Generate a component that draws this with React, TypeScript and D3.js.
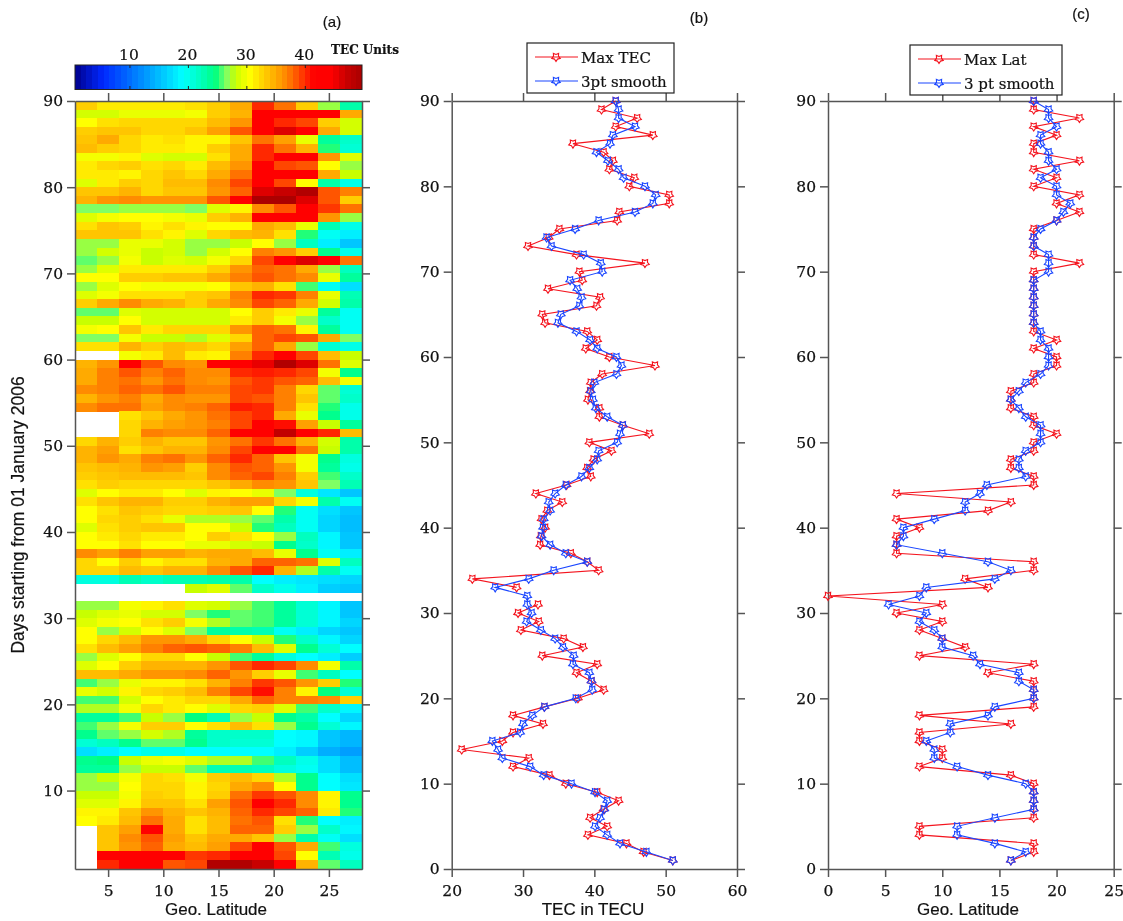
import React, { useEffect, useRef } from 'react';
import * as d3 from 'd3';

// Panel (a) grid: one row per day, day 90 first, last row is day 2
const latitudes = [2, 4, 6, 8, 10, 12, 14, 16, 18, 20, 22, 24, 26];
const n = null;
const tecGrid: (number | null)[][] = [
  [33, 31.5, 31.5, 31.5, 31.5, 32, 33, 35, 40, 37.5, 33, 27, 23],
  [28.5, 28.5, 29.5, 29.5, 29.5, 30, 33, 34.5, 42, 42, 42, 42, 35],
  [30.5, 32, 32.5, 32.5, 32.5, 32.5, 34, 36, 42, 40, 39, 33, 28.5],
  [33, 33.5, 33.5, 32.5, 32.5, 33.5, 35.5, 38.5, 43, 46, 43, 35, 28.5],
  [33.5, 35, 32.5, 31.5, 32, 31, 31, 33.5, 37.5, 35.5, 29.5, 23.5, 21.5],
  [34, 33, 32.5, 31.5, 31.5, 31, 33, 35, 40, 37.5, 34.5, 25, 21],
  [30, 30, 31, 29, 28.5, 28.5, 32, 35, 40, 42, 42, 36, 29],
  [31.5, 32.5, 33, 32, 32.5, 31.5, 34, 36, 41.5, 39, 38.5, 30.5, 27],
  [31.5, 31.5, 31, 32.5, 33.5, 32.5, 35, 37.5, 42, 42, 42, 35, 28],
  [29, 31.5, 33, 32.5, 34, 34, 36.5, 39, 42, 39, 30.5, 23, 20],
  [33.5, 33.5, 34.5, 32.5, 33.5, 33.5, 36, 38, 46, 47, 49, 38.5, 37],
  [34.5, 36, 36.5, 36, 36, 36, 38.5, 42, 49.5, 49.5, 46, 38.5, 33],
  [26.5, 26.5, 27, 27, 27, 26.5, 29, 31, 36.5, 38.5, 42, 39.5, 37.5],
  [29, 30, 30.5, 30.5, 30, 29.5, 33, 34.5, 42, 42, 42, 36, 27],
  [32, 33.5, 33, 31, 32, 31, 30.5, 30.5, 35, 34, 29.5, 22.5, 20],
  [33.5, 33.5, 33.5, 32, 31, 29, 32.5, 34, 34.5, 32, 25, 19.5, 18],
  [27, 27, 29.5, 29.5, 28.5, 27, 27, 28, 30.5, 27, 22, 18, 15.5],
  [27, 28.5, 29.5, 28, 28.5, 27, 28.5, 30.5, 37, 36, 33, 24, 20],
  [26, 27, 30, 28, 29, 28.5, 30, 32.5, 39, 42, 46, 42, 37.5],
  [27, 29, 31.5, 31.5, 31.5, 31.5, 33, 36, 38, 37.5, 35, 27, 22],
  [30.5, 30.5, 33, 33, 33.5, 33.5, 35, 37, 38.5, 37.5, 36.5, 29.5, 23.5],
  [27, 29, 30.5, 30, 30, 30, 30.5, 33.5, 34.5, 32, 25.5, 19.5, 17],
  [29, 30, 32, 32, 32, 33, 33.5, 37, 40, 39.5, 37, 29.5, 22.5],
  [33, 35, 36.5, 35, 34.5, 33, 35, 36.5, 39, 38, 35, 28.5, 23],
  [26, 26, 29, 28.5, 28.5, 28.5, 28.5, 30.5, 33, 31.5, 29.5, 23.5, 19.5],
  [28, 28, 30.5, 28.5, 28.5, 28.5, 28.5, 31.5, 33, 30, 27, 21.5, 19.5],
  [30, 30.5, 33.5, 31.5, 32.5, 32.5, 32.5, 36, 38, 37.5, 31, 23.5, 19.5],
  [26.5, 26.5, 30, 28, 28, 27.5, 29, 32.5, 38, 39, 38.5, 35, 26.5],
  [32, 32, 34.5, 33, 34, 33.5, 32.5, 35.5, 38, 35, 27, 21, 20],
  [n, n, 30, 31.5, 34, 31.5, 31, 37, 40, 42, 39, 34, 28],
  [34.5, 36, 43, 38.5, 36.5, 36, 42, 43, 45.5, 49, 46, 37.5, 29],
  [35, 37, 38.5, 37, 38, 36.5, 36.5, 40, 40.5, 40, 39, 30, 24],
  [35, 37, 37.5, 36, 37.5, 36.5, 36, 38.5, 39.5, 38.5, 38, 34, 30],
  [36.5, 37, 38, 37.5, 38.5, 37, 37, 39, 39.5, 37, 32.5, 26, 21],
  [34.5, 36, 37, 35, 36.5, 36, 36, 39, 38.5, 37, 33.5, 26, 21.5],
  [36.5, 37.5, 37.5, 35.5, 36.5, 37, 38, 40.5, 40, 37, 32, 25, 20],
  [n, n, 32, 33.5, 35, 36, 37.5, 39, 40, 35, 29.5, 24, 20],
  [n, n, 32.5, 34.5, 35.5, 36, 37, 39, 43, 41, 35.5, 28, 23.5],
  [n, n, 32.5, 37, 36.5, 36.5, 38, 42, 44, 47.5, 43, 40, 34],
  [32.5, 34.5, 33, 34.5, 33.5, 33.5, 36, 37.5, 39.5, 37.5, 34.5, 28.5, 23],
  [34.5, 35.5, 32, 33.5, 34.5, 34.5, 36.5, 39, 42, 42, 37.5, 28, 23],
  [34.5, 36, 35, 37, 37.5, 36, 38, 40, 38, 33.5, 30, 24, 20.5],
  [33.5, 34, 34.5, 36, 35.5, 33, 36.5, 38.5, 38, 36, 30, 23.5, 20],
  [33, 33.5, 34, 34, 34, 33.5, 36.5, 38, 39, 37, 33, 25.5, 21.5],
  [32, 33, 32.5, 32.5, 32.5, 32.5, 33.5, 35, 36.5, 36, 33.5, 26.5, 22.5],
  [29, 30.5, 31.5, 31.5, 30.5, 29, 31, 30.5, 29.5, 26.5, 20.5, 17.5, 15.5],
  [32, 33.5, 34.5, 34.5, 33, 33, 34.5, 35.5, 35.5, 32.5, 30, 23, 19.5],
  [30.5, 32, 33.5, 33, 32.5, 32.5, 33, 33.5, 30.5, 25, 19.5, 17, 15.5],
  [30.5, 32.5, 33, 32, 29.5, 27.5, 27.5, 27, 26, 23, 19.5, 16.5, 15],
  [29, 32, 33, 33.5, 33.5, 30.5, 30.5, 28, 25, 22, 19.5, 16.5, 15],
  [30.5, 31.5, 32.5, 31.5, 31.5, 30.5, 33, 32, 30.5, 27, 22, 18.5, 15.5],
  [30.5, 30.5, 32, 30.5, 30.5, 29.5, 29.5, 28.5, 28, 24, 21.5, 18.5, 15.5],
  [36.5, 35.5, 37, 35.5, 35.5, 34.5, 35, 35, 34, 29.5, 24, 19.5, 18],
  [32.5, 30.5, 33, 31, 32, 32, 34.5, 35, 38, 38, 37.5, 29, 22],
  [32.5, 32.5, 34, 33.5, 34.5, 34.5, 36.5, 38.5, 40, 34.5, 27.5, 23, 19.5],
  [20.5, 20.5, 22.5, 21.5, 22.5, 22.5, 23, 23, 19, 18, 17.5, 17, 16.5],
  [n, n, n, n, n, 28, 29, 26, 21.5, 20, 18, 16, 15.5],
  [n, n, n, n, n, n, n, n, n, n, n, n, n],
  [27, 27, 30, 31, 32, 29, 28.5, 27, 25.5, 23.5, 21, 18.5, 15.5],
  [28, 29, 29.5, 28.5, 28.5, 26.5, 25, 26, 25.5, 23.5, 21, 18.5, 15.5],
  [29, 30, 30.5, 32, 33, 30, 27.5, 26, 25.5, 23.5, 21, 18.5, 16.5],
  [30.5, 27, 28.5, 30.5, 29, 26.5, 23.5, 23, 22.5, 19.5, 18, 16.5, 15.5],
  [30.5, 32.5, 34, 36, 36, 35, 32.5, 30.5, 28, 25, 21.5, 18.5, 16.5],
  [32, 34, 35.5, 37, 38, 38.5, 38, 37, 34, 29, 24, 21, 19],
  [27, 29, 30.5, 32.5, 32.5, 30.5, 28, 25.5, 23.5, 20.5, 19, 18, 16],
  [29, 30.5, 33, 34.5, 34.5, 34.5, 36, 38.5, 40, 39, 36.5, 30, 23],
  [34, 34, 35, 36, 36, 36.5, 38, 36, 33, 29.5, 25.5, 22, 19],
  [25.5, 27, 29.5, 31, 31, 32, 34.5, 37, 39.5, 38.5, 36, 33, 25],
  [29.5, 28.5, 31, 32.5, 33, 34, 37, 39, 41, 37, 31, 24.5, 21],
  [25.5, 25.5, 28.5, 30.5, 31.5, 32.5, 32.5, 35, 38, 37, 37, 36.5, 33],
  [27.5, 27.5, 30, 32.5, 31.5, 30.5, 29, 32.5, 33, 29, 25.5, 21.5, 18.5],
  [23.5, 23.5, 25.5, 28, 27, 24.5, 22.5, 27, 28, 24, 23, 19, 16.5],
  [25.5, 27, 30, 33, 33, 30.5, 32, 34, 32, 27, 24, 21, 18.5],
  [24, 26, 27, 28.5, 27.5, 23.5, 21.5, 21.5, 21.5, 19, 18.5, 15.5, 14.5],
  [21, 22, 24, 26, 26, 24, 21.5, 21, 21, 19, 18.5, 15.5, 14.5],
  [17, 18, 19, 20, 20, 19, 19, 19, 19, 18, 16, 14, 13],
  [24, 24.5, 28, 29.5, 30, 29, 27.5, 27.5, 25.5, 22, 20, 17, 15],
  [23.5, 23.5, 27, 28, 28, 26, 22.5, 22.5, 22, 20.5, 19.5, 17, 15],
  [27, 28, 30, 32.5, 32, 30, 33, 34, 32.5, 27.5, 24, 19, 17],
  [27, 27, 30.5, 32.5, 32.5, 31, 32.5, 35, 36.5, 30.5, 24, 19, 17.5],
  [28, 28, 30, 33, 32.5, 31, 33, 37.5, 39.5, 38.5, 36.5, 31, 24],
  [29, 29, 31, 33.5, 33.5, 32, 35.5, 38.5, 43, 40, 36.5, 31, 24],
  [31, 31, 33.5, 36, 34.5, 33.5, 34.5, 38, 40, 39, 38, 31.5, 25],
  [30.5, 31.5, 34, 37.5, 35, 32, 34, 37.5, 38.5, 32, 25, 19, 18],
  [n, 33.5, 35.5, 42.5, 35, 32, 34, 38, 38, 33, 27, 21.5, 18.5],
  [n, 33.5, 36.5, 38.5, 35.5, 33.5, 35, 35, 33.5, 27, 23, 19.5, 17],
  [n, 33.5, 36, 38, 35, 34, 35.5, 39, 43, 38.5, 35, 25.5, 20.5],
  [n, 42, 42, 42, 42, 39.5, 40, 42, 44, 39, 30.5, 22.5, 20],
  [n, 40, 43, 43, 38.5, 39, 49, 49, 47, 43, 34.5, 26, 22],
];

// Colour map stops
const colorStops = [0.6, 5.4, 10, 15, 19, 23, 24.5, 26.5, 28, 30.5, 32.5, 35, 37, 38.5, 40, 41.5, 44.5, 47, 49.7];
const colorValues = [
  '#00008c', '#0028ff', '#006eff', '#00beff', '#00ffff', '#00ffaa', '#00ff80', '#80ff64', '#c8ff00', '#ffff00',
  '#ffd700', '#ffaa00', '#ff8000', '#ff5500', '#ff2800', '#ff0000', '#ff0000', '#c80000', '#aa0000',
];
const colorTicks = [10, 20, 30, 40];

// Panels (b) and (c): day 90 first, day 1 last
const days = d3.range(90, 0, -1);
const maxTec = [
  43, 41, 46, 43, 48.2, 37, 41.3, 42.6, 42.1, 45.6,
  44.9, 50.5, 50.5, 43.5, 43.2, 35.1, 33.6, 30.7, 37.5, 47.1,
  37.9, 38.3, 33.5, 40.8, 40.3, 32.7, 33.1, 39, 40.4, 38.8,
  42.1, 48.5, 41.1, 39.5, 39.4, 39.1, 40.7, 40.7, 44, 47.7,
  39.3, 42.4, 39.9, 39, 39.5, 36.1, 31.8, 35.5, 33.4, 32.6,
  33.1, 32.5, 32.4, 36.7, 39, 40.6, 22.9, 29.1, n, 32.1,
  29.3, 32.2, 29.7, 35.7, 38.4, 32.7, 40.4, 37.5, 39.6, 41.3,
  37.7, 33, 28.6, 32.8, 28.6, 27.1, 21.4, 30.8, 28.6, 33.7,
  36, 40.4, 43.4, 41.3, 39.4, 41.8, 39.1, 44.5, 46.9, 51,
];
const smoothTec = [
  43, 43.4, 43.4, 45.7, 42.6, 42.2, 40.3, 41.9, 43.4, 44.1,
  47.1, 48.6, 48.2, 45.7, 40.6, 37.3, 33.3, 34, 38.5, 40.9,
  41.1, 36.6, 37.6, 38.2, 37.9, 35.3, 34.9, 37.5, 39.4, 40.4,
  43.1, 43.8, 43.1, 40, 39.5, 39.8, 40.2, 41.8, 44, 43.6,
  43.2, 40.6, 40.4, 39.3, 38.2, 36, 34.5, 33.6, 33.8, 32.9,
  32.8, 32.6, 33.8, 36, 39, 34.3, 30.8, 26.1, 30.6, 30.6,
  31.2, 30.5, 32.5, 34.5, 35.6, 37.1, 37, 39.3, 39.6, 39.7,
  37.4, 33, 31.3, 30, 29.6, 25.7, 26.5, 27.1, 31, 32.9,
  36.8, 40.1, 41.8, 41.4, 40.8, 40.1, 41.8, 43.6, 47.3, 51,
];
const maxLat = [
  18, 18, 22, 18, 20, 18, 18, 22, 18, 20,
  18, 22, 20, 22, 20, 18, 18, 18, 18, 22,
  18, 18, 18, 18, 18, 18, 18, 18, 20, 18,
  20, 20, 18, 18, 16, 16, 16, 18, 18, 20,
  18, 18, 16, 16, 18, 18, 6, 16, 14, 6,
  8, 6, 6, 6, 18, 18, 12, 14, 0, 10,
  6, 10, 8, 10, 12, 8, 18, 14, 18, 18,
  18, 18, 8, 16, 8, 8, 10, 10, 8, 16,
  18, 18, 18, 18, 18, 8, 8, 18, 18, 16,
];
const smoothLat = [
  18, 19.3, 19.3, 20, 18.6, 18.6, 19.3, 19.3, 20, 18.6,
  20, 20, 21.2, 20.6, 20, 18.6, 18, 18, 19.3, 19.3,
  19.3, 18, 18, 18, 18, 18, 18, 18.6, 18.6, 19.3,
  19.3, 19.3, 18.6, 17.3, 16.7, 16, 16.7, 17.3, 18.6, 18.6,
  18.6, 17.3, 16.7, 16.7, 17.3, 13.9, 13.3, 12, 12, 9.3,
  6.6, 6.6, 6, 10, 14, 16, 14.6, 8.6, 8, 5.3,
  8.6, 8, 9.3, 10, 10, 12.7, 13.3, 16.7, 16.7, 18,
  18, 14.6, 14, 10.7, 10.7, 8.6, 9.3, 9.3, 11.3, 14,
  17.3, 18, 18, 18, 14.6, 11.3, 11.3, 14.6, 17.3, 16,
];

const xTicksA = [5, 10, 15, 20, 25];
const xTicksB = [20, 30, 40, 50, 60];
const xTicksC = [0, 5, 10, 15, 20, 25];
const yTicksA = d3.range(10, 100, 10);
const yTicks = d3.range(0, 100, 10);

const RED = '#f4141e';
const BLUE = '#1a46ff';
const AXIS = '#555';
const SERIF = '"DejaVu Serif", serif';
const SANS = '"Liberation Sans", sans-serif';

// Fatter pentagram than d3.symbolStar, closer to the plotted marker
const starMark = {
  draw(context: any, size: number) {
    const r = Math.sqrt(size);
    for (let i = 0; i < 10; i++) {
      const a = (i * Math.PI) / 5;
      const rr = i % 2 ? r * 0.58 : r;
      const px = rr * Math.sin(a);
      const py = -rr * Math.cos(a);
      if (i) context.lineTo(px, py);
      else context.moveTo(px, py);
    }
    context.closePath();
  },
};
const star = d3.symbol(starMark, 20)();

function drawAxes(svg: any, x: any, y: any, xTicks: number[], yTickVals: number[]) {
  const [x0, x1] = x.range();
  const [y0, y1] = y.range();
  const dress = (g: any) => {
    g.selectAll('path,line').attr('stroke', AXIS).attr('stroke-width', 1.5);
    g.selectAll('text').style('font-family', SERIF).style('font-size', '15.5px').attr('fill', '#111')
      .attr('stroke', '#111').attr('stroke-width', 0.25);
  };
  svg.append('g').attr('transform', `translate(0,${y0})`)
    .call(d3.axisBottom(x).tickValues(xTicks).tickSize(8).tickSizeOuter(0).tickPadding(8)).call(dress);
  svg.append('g').attr('transform', `translate(0,${y1})`)
    .call(d3.axisTop(x).tickValues(xTicks).tickSize(8).tickSizeOuter(0).tickFormat(() => '')).call(dress);
  svg.append('g').attr('transform', `translate(${x0},0)`)
    .call(d3.axisLeft(y).tickValues(yTickVals).tickSize(8).tickSizeOuter(0).tickPadding(4)).call(dress);
  svg.append('g').attr('transform', `translate(${x1},0)`)
    .call(d3.axisRight(y).tickValues(yTickVals).tickSize(8).tickSizeOuter(0).tickFormat(() => '')).call(dress);
}

function drawSeries(svg: any, x: any, y: any, values: (number | null)[], color: string) {
  const line = d3.line<number | null>()
    .defined(d => d !== null)
    .x(d => x(d))
    .y((_, i) => y(days[i]));
  svg.append('path').attr('d', line(values)).attr('fill', 'none')
    .attr('stroke', color).attr('stroke-width', 1.1);
  svg.append('g').selectAll('path')
    .data(values.map((v, i) => ({ v, day: days[i] })).filter(d => d.v !== null))
    .enter().append('path')
    .attr('d', star)
    .attr('transform', (d: any) => `translate(${x(d.v)},${y(d.day)}) rotate(180)`)
    .attr('fill', 'none').attr('stroke', color).attr('stroke-width', 1.1);
}

function drawLegend(svg: any, box: number[], labels: string[]) {
  const [left, top, right, bottom] = box;
  svg.append('rect').attr('x', left).attr('y', top).attr('width', right - left).attr('height', bottom - top)
    .attr('fill', '#fff').attr('stroke', '#222').attr('stroke-width', 1.2);
  labels.forEach((label, i) => {
    const color = i === 0 ? RED : BLUE;
    const yy = top + 14 + i * 24;
    svg.append('line').attr('x1', left + 8).attr('x2', left + 51).attr('y1', yy).attr('y2', yy)
      .attr('stroke', color).attr('stroke-width', 1.1);
    svg.append('path').attr('d', star).attr('transform', `translate(${left + 29},${yy}) rotate(180)`)
      .attr('fill', 'none').attr('stroke', color).attr('stroke-width', 1.1);
    svg.append('text').attr('x', left + 54).attr('y', yy + 6)
      .style('font-family', SERIF).style('font-size', '15px').attr('fill', '#111')
      .attr('stroke', '#111').attr('stroke-width', 0.2).text(label);
  });
}

function addText(svg: any, x: number, y: number, text: string, family: string, size: number, weight = 'normal') {
  return svg.append('text').attr('x', x).attr('y', y).attr('text-anchor', 'middle')
    .style('font-family', family).style('font-size', `${size}px`).style('font-weight', weight)
    .attr('fill', '#111').attr('stroke', '#111').attr('stroke-width', 0.2).text(text);
}

export default function App() {
  const ref = useRef<SVGSVGElement>(null);

  useEffect(() => {
    const svg = d3.select(ref.current);
    svg.selectAll('*').remove();

    const color = d3.scaleLinear<string>().domain(colorStops).range(colorValues).clamp(true);

    // Panel (a): heat map
    const xA = d3.scaleLinear().domain([2, 28]).range([75, 362]);
    const yA = d3.scaleLinear().domain([0.9, 90]).range([869, 101]);
    const cells = tecGrid.flatMap((row, r) =>
      row.map((v, c) => ({ v, lat: latitudes[c], top: 90 - r })));
    svg.append('g').attr('shape-rendering', 'crispEdges').selectAll('rect')
      .data(cells.filter(d => d.v !== null))
      .enter().append('rect')
      .attr('x', d => xA(d.lat))
      .attr('width', d => xA(d.lat + 2) - xA(d.lat) + 0.5)
      .attr('y', d => yA(d.top))
      .attr('height', d => (d.top === 2 ? yA.range()[0] : yA(d.top - 1)) - yA(d.top) + 0.5)
      .attr('fill', d => color(d.v as number));
    drawAxes(svg, xA, yA, xTicksA, yTicksA);

    // Colour bar
    const cbar = d3.scaleLinear().domain([0.6, 49.7]).range([75, 362]);
    const levels = d3.range(50);
    const step = (49.7 - 0.6) / levels.length;
    svg.append('g').attr('shape-rendering', 'crispEdges').selectAll('rect')
      .data(levels).enter().append('rect')
      .attr('x', d => cbar(0.6 + d * step))
      .attr('width', cbar(0.6 + step) - cbar(0.6) + 0.4).attr('y', 65).attr('height', 24.5)
      .attr('fill', d => color(0.6 + (d + 0.5) * step));
    svg.append('rect').attr('x', 75).attr('y', 65).attr('width', 287).attr('height', 24.5)
      .attr('fill', 'none').attr('stroke', '#222').attr('stroke-width', 1);
    colorTicks.forEach(t => {
      svg.append('line').attr('x1', cbar(t)).attr('x2', cbar(t)).attr('y1', 65).attr('y2', 68).attr('stroke', '#222');
      svg.append('line').attr('x1', cbar(t)).attr('x2', cbar(t)).attr('y1', 86).attr('y2', 89.5).attr('stroke', '#222');
      addText(svg, cbar(t) - 1, 60, String(t), SERIF, 15.5);
    });
    addText(svg, 365, 54, 'TEC Units', SERIF, 12, 'bold');

    // Panel (b)
    const xB = d3.scaleLinear().domain([20, 60]).range([451.7, 737]);
    const yB = d3.scaleLinear().domain([0, 90]).range([869, 101]);
    drawAxes(svg, xB, yB, xTicksB, yTicks);
    drawSeries(svg, xB, yB, maxTec, RED);
    drawSeries(svg, xB, yB, smoothTec, BLUE);
    drawLegend(svg, [527, 43, 674, 93], ['Max TEC', '3pt smooth']);

    // Panel (c)
    const xC = d3.scaleLinear().domain([0, 25]).range([828, 1113.7]);
    drawAxes(svg, xC, yB, xTicksC, yTicks);
    drawSeries(svg, xC, yB, maxLat, RED);
    drawSeries(svg, xC, yB, smoothLat, BLUE);
    drawLegend(svg, [910, 45, 1062, 95], ['Max Lat', '3 pt smooth']);

    // Titles and axis labels
    addText(svg, 332, 27, '(a)', SANS, 15);
    addText(svg, 699, 23, '(b)', SANS, 15);
    addText(svg, 1081, 19, '(c)', SANS, 15);
    addText(svg, 216, 915, 'Geo. Latitude', SANS, 17);
    addText(svg, 593, 915, 'TEC in TECU', SANS, 17);
    addText(svg, 968, 915, 'Geo. Latitude', SANS, 17);
    addText(svg, 0, 0, 'Days starting from 01 January 2006', SANS, 17.5)
      .attr('transform', 'translate(24,515) rotate(-90)');
  }, []);

  return (
    <svg ref={ref} width={1123} height={921}
      style={{ position: 'absolute', left: 0, top: 0, background: '#fff', filter: 'blur(0.35px)' }} />
  );
}
